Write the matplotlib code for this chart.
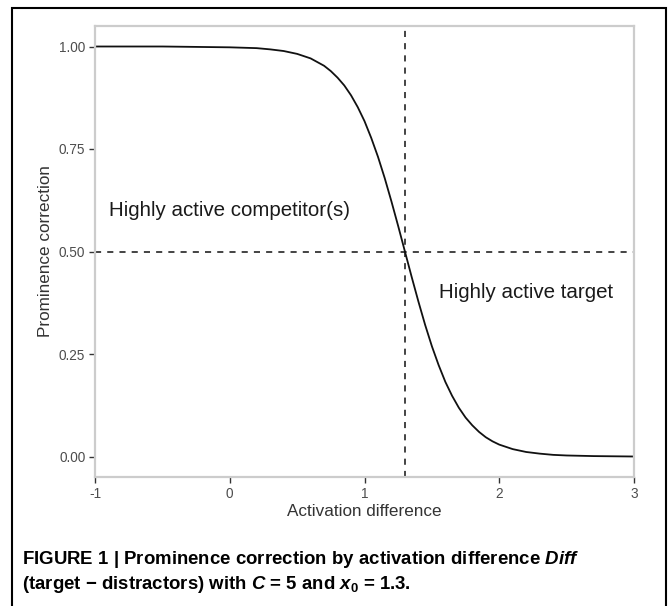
import matplotlib
matplotlib.use("Agg")
import matplotlib.pyplot as plt
from matplotlib.patches import Rectangle

plt.rcParams['font.family'] = ['Liberation Sans', 'DejaVu Sans']
plt.rcParams['mathtext.fontset'] = 'custom'
plt.rcParams['mathtext.rm'] = 'Liberation Sans:bold'
plt.rcParams['mathtext.it'] = 'Liberation Sans:bold:italic'
plt.rcParams['mathtext.bf'] = 'Liberation Sans:bold'

# values
activation = [-1.0, -0.5, 0.0, 0.2, 0.3, 0.4, 0.5, 0.6, 0.7, 0.75, 0.8, 0.85,
              0.9, 0.95, 1.0, 1.05, 1.1, 1.15, 1.2, 1.25, 1.3, 1.35, 1.4, 1.45,
              1.5, 1.55, 1.6, 1.65, 1.7, 1.75, 1.8, 1.85, 1.9, 1.95, 2.0, 2.1,
              2.2, 2.3, 2.4, 2.5, 2.7, 3.0]
correction = [1.000, 1.000, 0.998, 0.996, 0.993, 0.989, 0.982, 0.971, 0.953,
              0.940, 0.924, 0.905, 0.881, 0.852, 0.818, 0.777, 0.731, 0.679,
              0.622, 0.562, 0.500, 0.438, 0.378, 0.321, 0.269, 0.223, 0.182,
              0.148, 0.119, 0.095, 0.076, 0.060, 0.047, 0.037, 0.029, 0.018,
              0.011, 0.007, 0.004, 0.0025, 0.001, 0.000]

x0 = 1.3
half = 0.5
xticks = [-1, 0, 1, 2, 3]
xtick_labels = ['-1', '0', '1', '2', '3']
yticks = [0.0, 0.25, 0.5, 0.75, 1.0]
ytick_labels = ['0.00', '0.25', '0.50', '0.75', '1.00']

W, H = 668, 606
fig = plt.figure(figsize=(W / 100, H / 100), dpi=100)
ax = fig.add_axes([95 / W, 1 - 477 / H, (634 - 95) / W, (477 - 26) / H])

ax.plot(activation, correction, color='#111111', lw=1.3)
ax.axvline(x0, color='#111111', lw=1.1, ls=(0, (4, 4)))
ax.axhline(half, color='#111111', lw=1.1, ls=(0, (4, 4)))

ax.text(0.0, 0.6, 'Highly active competitor(s)', ha='center', va='center',
        fontsize=14.8, color='#1a1a1a')
ax.text(2.2, 0.4, 'Highly active target', ha='center', va='center',
        fontsize=14.8, color='#1a1a1a')

ax.set_xlim(-1, 3)
ax.set_ylim(-0.05, 1.05)
ax.set_xticks(xticks)
ax.set_xticklabels(xtick_labels)
ax.set_yticks(yticks)
ax.set_yticklabels(ytick_labels)
ax.tick_params(length=4, width=1, color='#333333', labelcolor='#4d4d4d',
               labelsize=9.8, pad=3)
for s in ax.spines.values():
    s.set_color('#cccccc')
    s.set_linewidth(1.6)

ax.set_xlabel('Activation difference', fontsize=12.3, color='#333333', labelpad=2)
ax.set_ylabel('Prominence correction', fontsize=12.3, color='#333333', labelpad=4)

# caption
fig.text(22 / W, 1 - 564 / H,
         'FIGURE 1 | Prominence correction by activation difference $Diff$',
         fontsize=13.4, fontweight='bold', va='baseline', ha='left')
fig.text(22 / W, 1 - 589 / H,
         '(target $-$ distractors) with $C$ = 5 and $x_{0}$ = 1.3.',
         fontsize=13.4, fontweight='bold', va='baseline', ha='left')

# outer frame
fig.patches.append(Rectangle((12 / W, -0.05), (666 - 12) / W, 1 - 8 / H + 0.05,
                             transform=fig.transFigure, fill=False,
                             edgecolor='black', lw=1.5))

fig.savefig('out.png', dpi=100)
